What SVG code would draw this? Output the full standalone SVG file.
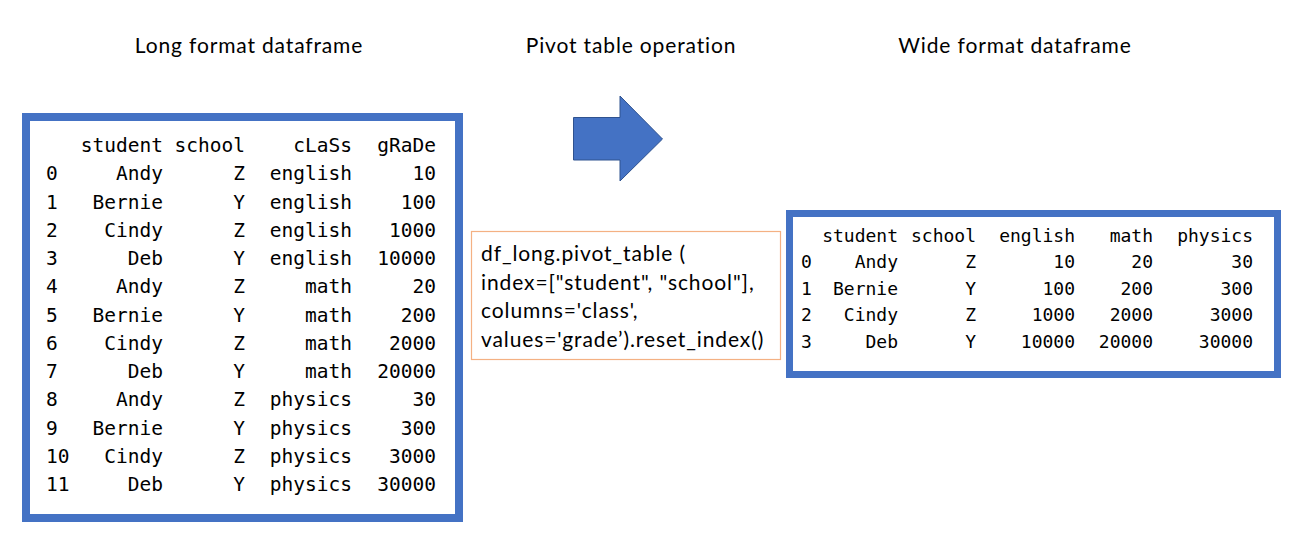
<svg xmlns="http://www.w3.org/2000/svg" width="1299" height="556" viewBox="0 0 1299 556">
<style>
.title{font-family:Lato,"Liberation Sans",sans-serif;font-size:21px;letter-spacing:0.85px;fill:#000;text-anchor:middle}
.frame{fill:#fff;stroke:#4472C4}
.m1{font-family:"DejaVu Sans Mono",monospace;font-size:19.5px;fill:#000}
.m2{font-family:"DejaVu Sans Mono",monospace;font-size:18px;fill:#000}
.e{text-anchor:end}
.code{font-family:Lato,"Liberation Sans",sans-serif;font-size:21px;letter-spacing:0.9px;fill:#000}
</style>
<rect width="1299" height="556" fill="#fff"/>
<g id="titles">
<text class="title" x="249" y="53">Long format dataframe</text>
<text class="title" x="631" y="53">Pivot table operation</text>
<text class="title" x="1015" y="53">Wide format dataframe</text>
</g>
<g id="long-df">
<rect class="frame" x="26" y="117" width="433" height="401" stroke-width="8"/>
<text class="m1" x="46" y="152"><tspan x="46" dy="28.25">0</tspan><tspan x="46" dy="28.25">1</tspan><tspan x="46" dy="28.25">2</tspan><tspan x="46" dy="28.25">3</tspan><tspan x="46" dy="28.25">4</tspan><tspan x="46" dy="28.25">5</tspan><tspan x="46" dy="28.25">6</tspan><tspan x="46" dy="28.25">7</tspan><tspan x="46" dy="28.25">8</tspan><tspan x="46" dy="28.25">9</tspan><tspan x="46" dy="28.25">10</tspan><tspan x="46" dy="28.25">11</tspan></text>
<text class="m1 e" x="163" y="152">student<tspan x="163" dy="28.25">Andy</tspan><tspan x="163" dy="28.25">Bernie</tspan><tspan x="163" dy="28.25">Cindy</tspan><tspan x="163" dy="28.25">Deb</tspan><tspan x="163" dy="28.25">Andy</tspan><tspan x="163" dy="28.25">Bernie</tspan><tspan x="163" dy="28.25">Cindy</tspan><tspan x="163" dy="28.25">Deb</tspan><tspan x="163" dy="28.25">Andy</tspan><tspan x="163" dy="28.25">Bernie</tspan><tspan x="163" dy="28.25">Cindy</tspan><tspan x="163" dy="28.25">Deb</tspan></text>
<text class="m1 e" x="245" y="152">school<tspan x="245" dy="28.25">Z</tspan><tspan x="245" dy="28.25">Y</tspan><tspan x="245" dy="28.25">Z</tspan><tspan x="245" dy="28.25">Y</tspan><tspan x="245" dy="28.25">Z</tspan><tspan x="245" dy="28.25">Y</tspan><tspan x="245" dy="28.25">Z</tspan><tspan x="245" dy="28.25">Y</tspan><tspan x="245" dy="28.25">Z</tspan><tspan x="245" dy="28.25">Y</tspan><tspan x="245" dy="28.25">Z</tspan><tspan x="245" dy="28.25">Y</tspan></text>
<text class="m1 e" x="352" y="152">cLaSs<tspan x="352" dy="28.25">english</tspan><tspan x="352" dy="28.25">english</tspan><tspan x="352" dy="28.25">english</tspan><tspan x="352" dy="28.25">english</tspan><tspan x="352" dy="28.25">math</tspan><tspan x="352" dy="28.25">math</tspan><tspan x="352" dy="28.25">math</tspan><tspan x="352" dy="28.25">math</tspan><tspan x="352" dy="28.25">physics</tspan><tspan x="352" dy="28.25">physics</tspan><tspan x="352" dy="28.25">physics</tspan><tspan x="352" dy="28.25">physics</tspan></text>
<text class="m1 e" x="436" y="152">gRaDe<tspan x="436" dy="28.25">10</tspan><tspan x="436" dy="28.25">100</tspan><tspan x="436" dy="28.25">1000</tspan><tspan x="436" dy="28.25">10000</tspan><tspan x="436" dy="28.25">20</tspan><tspan x="436" dy="28.25">200</tspan><tspan x="436" dy="28.25">2000</tspan><tspan x="436" dy="28.25">20000</tspan><tspan x="436" dy="28.25">30</tspan><tspan x="436" dy="28.25">300</tspan><tspan x="436" dy="28.25">3000</tspan><tspan x="436" dy="28.25">30000</tspan></text>
</g>
<g id="connectors">
<path d="M573.5,117.5 H620 V96 L662.5,139 L620,181 V160 H573.5 Z" fill="#4472C4" stroke="#2F528F" stroke-width="1"/>
</g>
<g id="pivot-op">
<rect x="471.5" y="231.5" width="309" height="128" fill="#fff" stroke="#F4B183" stroke-width="1.2"/>
<text class="code" x="481" y="261">df_long.pivot_table (<tspan x="481" dy="28.5">index=["student", "school"],</tspan><tspan x="481" dy="28.5">columns='class',</tspan><tspan x="481" dy="28.5">values='grade’).reset_index()</tspan></text>
</g>
<g id="wide-df">
<rect class="frame" x="789.5" y="213.5" width="488" height="161" stroke-width="7"/>
<text class="m2" x="801" y="242"><tspan x="801" dy="26.4">0</tspan><tspan x="801" dy="26.4">1</tspan><tspan x="801" dy="26.4">2</tspan><tspan x="801" dy="26.4">3</tspan></text>
<text class="m2 e" x="898" y="242">student<tspan x="898" dy="26.4">Andy</tspan><tspan x="898" dy="26.4">Bernie</tspan><tspan x="898" dy="26.4">Cindy</tspan><tspan x="898" dy="26.4">Deb</tspan></text>
<text class="m2 e" x="976" y="242">school<tspan x="976" dy="26.4">Z</tspan><tspan x="976" dy="26.4">Y</tspan><tspan x="976" dy="26.4">Z</tspan><tspan x="976" dy="26.4">Y</tspan></text>
<text class="m2 e" x="1075" y="242">english<tspan x="1075" dy="26.4">10</tspan><tspan x="1075" dy="26.4">100</tspan><tspan x="1075" dy="26.4">1000</tspan><tspan x="1075" dy="26.4">10000</tspan></text>
<text class="m2 e" x="1153" y="242">math<tspan x="1153" dy="26.4">20</tspan><tspan x="1153" dy="26.4">200</tspan><tspan x="1153" dy="26.4">2000</tspan><tspan x="1153" dy="26.4">20000</tspan></text>
<text class="m2 e" x="1253" y="242">physics<tspan x="1253" dy="26.4">30</tspan><tspan x="1253" dy="26.4">300</tspan><tspan x="1253" dy="26.4">3000</tspan><tspan x="1253" dy="26.4">30000</tspan></text>
</g>
</svg>
